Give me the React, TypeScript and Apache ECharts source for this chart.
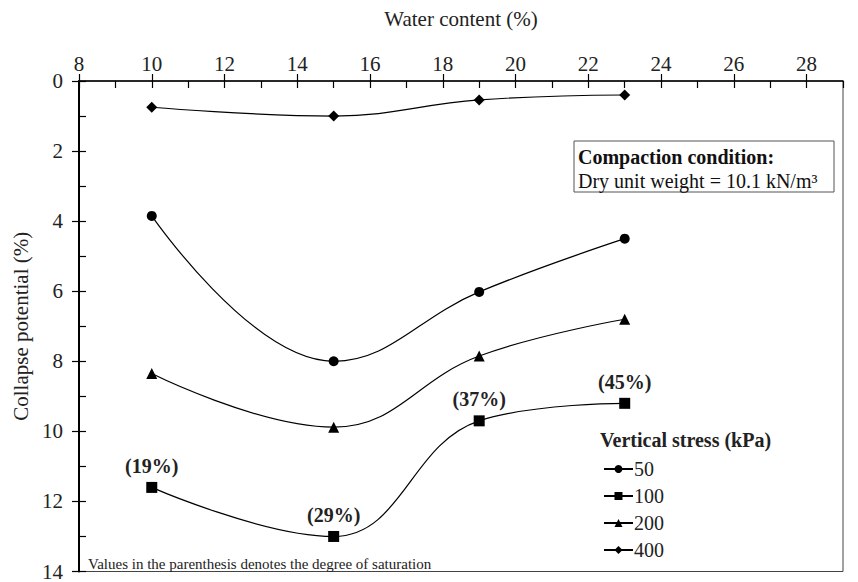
import React, { useEffect, useRef } from "react";
import * as echarts from "echarts";

// Water content (%) at which the specimens were compacted
const waterContent = [10, 15, 19, 23];

// Collapse potential (%) for each vertical stress level
const cp50 = [3.85, 8.0, 6.02, 4.5];
const cp100 = [11.6, 13.0, 9.7, 9.2];
const cp200 = [8.35, 9.88, 7.85, 6.8];
const cp400 = [0.75, 1.0, 0.54, 0.4];

// Degree of saturation (%) noted beside the 100 kPa points
const saturation100 = [19, 29, 37, 45];

const stressLabels = ["50", "100", "200", "400"];

const FONT = "'Liberation Serif', 'Times New Roman', serif";

const pairs = (ys: number[]) => waterContent.map((x, i) => [x, ys[i]]);

export default function App() {
  const ref = useRef<HTMLDivElement>(null);

  useEffect(() => {
    document.body.style.margin = "0";
    if (!ref.current) return;
    const chart = echarts.init(ref.current, undefined, { renderer: "svg" });

    const lineSeries = (name: string, ys: number[], symbol: string, size: number) => ({
      name,
      type: "line",
      data: pairs(ys),
      smooth: 0.42,
      symbol,
      symbolSize: size,
      lineStyle: { color: "#000", width: 1.2 },
      itemStyle: { color: "#000" },
      xAxisIndex: 0,
      yAxisIndex: 0,
    });

    const s100: any = lineSeries(stressLabels[1], cp100, "rect", 11);
    s100.label = {
      show: true,
      position: "top",
      distance: 6,
      formatter: (p: any) => `(${saturation100[p.dataIndex]}%)`,
      fontFamily: FONT,
      fontWeight: "bold",
      fontSize: 20,
      color: "#222",
    };

    chart.setOption({
      animation: false,
      backgroundColor: "#fff",
      grid: {
        left: 79,
        right: 15,
        top: 81,
        bottom: 5,
        show: true,
        borderColor: "#444",
        borderWidth: 1,
        backgroundColor: "transparent",
      },
      xAxis: [
        {
          type: "value",
          position: "top",
          min: 8,
          max: 29,
          interval: 2,
          name: "Water content (%)",
          nameLocation: "middle",
          nameGap: 52,
          nameTextStyle: { fontFamily: FONT, fontSize: 21, color: "#222" },
          axisLine: { show: true, lineStyle: { color: "#000", width: 1.6 } },
          axisTick: { show: true, inside: false, length: 7, lineStyle: { color: "#000", width: 1.2 } },
          axisLabel: {
            margin: 7,
            fontFamily: FONT,
            fontSize: 21,
            color: "#222",
            showMaxLabel: false,
          },
          splitLine: { show: false },
        },
        {
          type: "value",
          position: "top",
          min: 8,
          max: 29,
          interval: 2,
          axisLine: { show: false },
          axisTick: { show: true, inside: true, length: 7, lineStyle: { color: "#000", width: 1.2 } },
          minorTick: { show: true, splitNumber: 2, length: 7, lineStyle: { color: "#000", width: 1.2 } },
          axisLabel: { show: false },
          splitLine: { show: false },
        },
      ],
      yAxis: [
        {
          type: "value",
          position: "left",
          inverse: true,
          min: 0,
          max: 14,
          interval: 2,
          name: "Collapse potential (%)",
          nameLocation: "middle",
          nameGap: 46,
          nameTextStyle: { fontFamily: FONT, fontSize: 21, color: "#222" },
          axisLine: { show: true, lineStyle: { color: "#000", width: 2 } },
          axisTick: { show: true, inside: false, length: 7, lineStyle: { color: "#000", width: 1.2 } },
          axisLabel: { margin: 16, fontFamily: FONT, fontSize: 21, color: "#222" },
          splitLine: { show: false },
        },
        {
          type: "value",
          position: "left",
          inverse: true,
          min: 0,
          max: 14,
          interval: 2,
          axisLine: { show: false },
          axisTick: { show: true, inside: true, length: 7, lineStyle: { color: "#000", width: 1.2 } },
          minorTick: { show: true, splitNumber: 2, length: 7, lineStyle: { color: "#000", width: 1.2 } },
          axisLabel: { show: false },
          splitLine: { show: false },
        },
      ],
      legend: {
        orient: "vertical",
        left: 603,
        top: 459,
        itemWidth: 29,
        itemHeight: 10,
        itemGap: 7,
        padding: 0,
        data: stressLabels,
        textStyle: { fontFamily: FONT, fontSize: 20, color: "#222", padding: [0, 0, 0, -4] },
      },
      graphic: [
        {
          type: "rect",
          shape: { x: 574, y: 141, width: 260, height: 51 },
          style: { fill: "#fff", stroke: "#555", lineWidth: 1 },
          z: 10,
        },
        {
          type: "text",
          x: 578,
          y: 157,
          style: {
            text: "Compaction condition:",
            fontFamily: FONT,
            fontSize: 20,
            fontWeight: "bold",
            fill: "#111",
            verticalAlign: "middle",
          },
          z: 11,
        },
        {
          type: "text",
          x: 578,
          y: 181,
          style: {
            text: "Dry unit weight = 10.1 kN/m³",
            fontFamily: FONT,
            fontSize: 20,
            fill: "#111",
            verticalAlign: "middle",
          },
          z: 11,
        },
        {
          type: "text",
          x: 600,
          y: 440,
          style: {
            text: "Vertical stress (kPa)",
            fontFamily: FONT,
            fontSize: 20,
            fontWeight: "bold",
            fill: "#222",
            verticalAlign: "middle",
          },
        },
        {
          type: "text",
          x: 88,
          y: 564,
          style: {
            text: "Values in the parenthesis denotes the degree of saturation",
            fontFamily: FONT,
            fontSize: 15,
            fill: "#222",
            verticalAlign: "middle",
          },
        },
      ],
      series: [
        lineSeries(stressLabels[0], cp50, "circle", 10),
        s100,
        lineSeries(stressLabels[2], cp200, "triangle", 11),
        lineSeries(stressLabels[3], cp400, "diamond", 11),
      ],
    });

    return () => chart.dispose();
  }, []);

  return <div ref={ref} style={{ width: 858, height: 582 }} />;
}
